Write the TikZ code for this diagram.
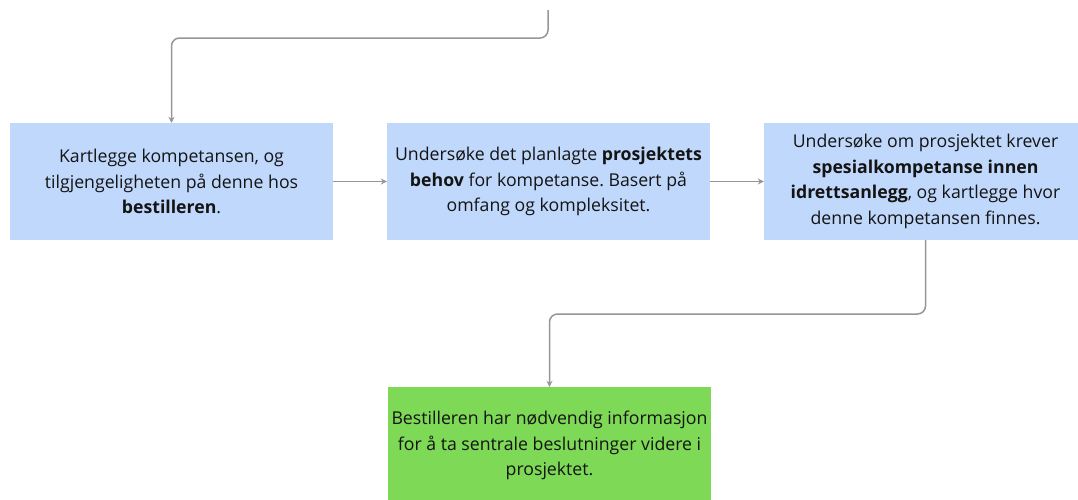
\documentclass[tikz,border=0pt]{standalone}
\usepackage{fontspec}
\setmainfont{Open Sans}
\usetikzlibrary{arrows.meta}
\definecolor{boxblue}{RGB}{192,216,251}
\definecolor{boxgreen}{RGB}{126,217,87}
\definecolor{linegray}{RGB}{150,150,150}
\definecolor{txt}{RGB}{20,20,20}
\frenchspacing
\tikzset{
  stepbox/.style={rectangle, fill=boxblue, draw=none, minimum width=323pt, minimum height=117pt,
    align=center, text=txt, font=\fontsize{17.7}{25.5}\selectfont, inner sep=0pt},
  endbox/.style={stepbox, fill=boxgreen},
  conn/.style={draw=linegray, line width=1.5pt, rounded corners=8pt,
    -{Stealth[length=6pt,width=6pt]}},
}
\begin{document}
\begin{tikzpicture}[x=1pt,y=-1pt]
\useasboundingbox (0,0) rectangle (1078,499);
\clip (0,0) rectangle (1078,499);
\node[stepbox] (b1) at (171.5,181.5) {Kartlegge kompetansen, og\\tilgjengeligheten på denne hos\\\textbf{bestilleren}.};
\node[stepbox] (b2) at (548.5,181.5) {Undersøke det planlagte \textbf{prosjektets}\\\textbf{behov} for kompetanse. Basert på\\omfang og kompleksitet.};
\node[stepbox] (b3) at (925.5,181.5) {Undersøke om prosjektet krever\\\textbf{spesialkompetanse innen}\\\textbf{idrettsanlegg}, og kartlegge hvor\\denne kompetansen finnes.};
\node[endbox] (g) at (549.5,445.5) {Bestilleren har nødvendig informasjon\\for å ta sentrale beslutninger videre i\\prosjektet.};
\coordinate (start) at (548,10);
\draw[conn] (start) -- (548,38) -| (b1.north);
\draw[conn] (b1.east) -- (b2.west);
\draw[conn] (b2.east) -- (b3.west);
\draw[conn] (b3.south) -- (925.5,314) -| (g.north);
\end{tikzpicture}
\end{document}
